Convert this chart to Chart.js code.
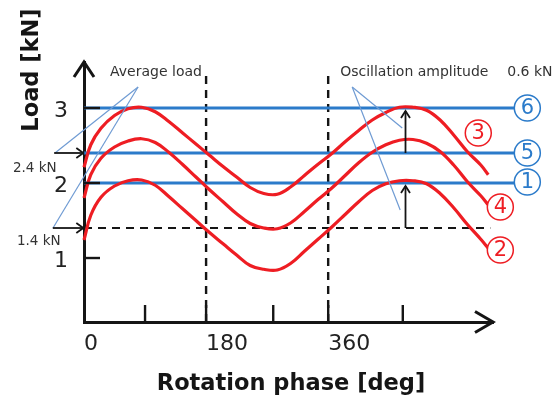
<!DOCTYPE html>
<html>
<head>
<meta charset="utf-8">
<script src="https://cdn.jsdelivr.net/npm/chart.js@4.4.0/dist/chart.umd.min.js"></script>
<style>
html,body{margin:0;padding:0;background:#fff;}
</style>
</head>
<body>
<canvas id="chart" width="559" height="397"></canvas>
<script>
// rotation phase [deg] shared by the three load curves
const phase = [0, 10, 25, 45, 65, 85, 105, 125, 145, 165, 185, 205, 225, 245, 265, 285, 305, 325, 345, 365, 385, 405, 425, 445, 465, 485, 505, 525, 545, 565, 585, 596];
// curve (3): average 2.4 kN
const load3 = [2.21, 2.51, 2.73, 2.90, 2.99, 3.01, 2.95, 2.82, 2.67, 2.52, 2.37, 2.22, 2.08, 1.94, 1.86, 1.85, 1.95, 2.10, 2.25, 2.39, 2.55, 2.70, 2.84, 2.94, 3.01, 3.01, 2.97, 2.84, 2.64, 2.42, 2.24, 2.11];
// curve (4): average 2.0 kN
const load4 = [1.80, 2.11, 2.33, 2.48, 2.56, 2.59, 2.54, 2.41, 2.25, 2.08, 1.91, 1.75, 1.59, 1.46, 1.40, 1.39, 1.47, 1.62, 1.78, 1.93, 2.10, 2.27, 2.41, 2.51, 2.57, 2.58, 2.53, 2.42, 2.24, 2.02, 1.83, 1.71];
// curve (2): average 1.4 kN
const load2 = [1.24, 1.57, 1.81, 1.96, 2.03, 2.04, 1.97, 1.82, 1.66, 1.50, 1.34, 1.19, 1.04, 0.90, 0.85, 0.84, 0.93, 1.09, 1.25, 1.41, 1.58, 1.75, 1.90, 1.99, 2.03, 2.03, 1.99, 1.86, 1.67, 1.45, 1.25, 1.13];

// constant loads (6), (5), (1)
const levelLoads = [3.0, 2.4, 2.0];
const levelIds = ["6", "5", "1"];
const levelEnd = 634;

const baseLoad = 1.4;        // dashed line
const baseEnd = 599;
const phaseMarks = [180, 360];
const markTop = 3.48;

const xTickLabels = [0, 180, 360];
const xTickMarks = [90, 180, 279, 360, 470];
const yTickLabels = [1, 2, 3];

const RED = "#ee1d23";
const BLUE = "#2b7bca";
const CALLOUT = "#6f9bd3";
const INK = "#151515";
const TXT = "#333333";

const pts = (xs, ys) => xs.map((x, i) => ({x: x, y: ys[i]}));

const datasets = [];
[load3, load4, load2].forEach(ys => {
  datasets.push({data: pts(phase, ys), borderColor: RED, borderWidth: 3.2,
    pointRadius: 0, tension: 0.4, clip: false});
});
levelLoads.forEach(v => {
  datasets.push({data: [{x: 0, y: v}, {x: levelEnd, y: v}], borderColor: BLUE,
    borderWidth: 2.8, pointRadius: 0, clip: false});
});
datasets.push({data: [{x: 0, y: baseLoad}, {x: baseEnd, y: baseLoad}], borderColor: INK,
  borderWidth: 2.2, borderDash: [8, 6], pointRadius: 0, clip: false});
phaseMarks.forEach(p => {
  datasets.push({data: [{x: p, y: 0.147}, {x: p, y: markTop}], borderColor: INK,
    borderWidth: 2.4, borderDash: [8, 6], pointRadius: 0, clip: false});
});

// circled ids: [text, phase, load, colour]
const circleLabels = [
  [levelIds[0], 653.6, levelLoads[0], BLUE], [levelIds[1], 653.6, levelLoads[1], BLUE], [levelIds[2], 653.6, 2.013, BLUE],
  ["3", 581.3, 2.667, RED], ["4", 613.8, 1.68, RED], ["2", 613.8, 1.107, RED]
];

function chevron(ctx, x, y, ang, len, half){
  const c = Math.cos(ang), s = Math.sin(ang);
  ctx.beginPath();
  ctx.moveTo(x - len*c + half*s, y - len*s - half*c);
  ctx.lineTo(x, y);
  ctx.lineTo(x - len*c - half*s, y - len*s + half*c);
  ctx.stroke();
}
function arrow(ctx, x1, y1, x2, y2, len, half){
  ctx.beginPath(); ctx.moveTo(x1, y1); ctx.lineTo(x2, y2); ctx.stroke();
  chevron(ctx, x2, y2, Math.atan2(y2 - y1, x2 - x1), len, half);
}

const decor = {
  id: "decor",
  afterDatasetsDraw(chart){
    const ctx = chart.ctx, a = chart.chartArea;
    const X = v => chart.scales.x.getPixelForValue(v);
    const Y = v => chart.scales.y.getPixelForValue(v);
    ctx.save();
    ctx.lineCap = "butt";
    ctx.strokeStyle = INK;
    // tick marks, drawn inside
    ctx.lineWidth = 2.4;
    xTickMarks.forEach(v => { ctx.beginPath(); ctx.moveTo(X(v), a.bottom); ctx.lineTo(X(v), a.bottom - 17); ctx.stroke(); });
    yTickLabels.forEach(v => { ctx.beginPath(); ctx.moveTo(a.left, Y(v)); ctx.lineTo(a.left + 16, Y(v)); ctx.stroke(); });
    // axis arrow heads
    ctx.lineWidth = 3;
    ctx.lineJoin = "miter";
    chevron(ctx, a.right, a.bottom, 0, 18, 10.5);
    chevron(ctx, a.left, a.top, -Math.PI/2, 15, 10);

    // callout lines
    ctx.strokeStyle = CALLOUT; ctx.lineWidth = 1.2;
    [[-42.8, 2.4], [-45.7, 1.4]].forEach(([x, y]) => {
      ctx.beginPath(); ctx.moveTo(X(79.7), Y(3.28)); ctx.lineTo(X(x), Y(y)); ctx.stroke();
    });
    [[469.2, 2.733], [466.2, 1.64]].forEach(([x, y]) => {
      ctx.beginPath(); ctx.moveTo(X(395.4), Y(3.28)); ctx.lineTo(X(x), Y(y)); ctx.stroke();
    });

    // value arrows
    ctx.strokeStyle = INK; ctx.lineWidth = 1.8;
    arrow(ctx, X(-44), Y(2.4), X(-1), Y(2.4), 7, 5);
    arrow(ctx, X(-46), Y(1.4), X(-1), Y(1.4), 7, 5);
    arrow(ctx, X(474), Y(2.4), X(474), Y(2.96), 7, 4.5);
    arrow(ctx, X(474), Y(1.4), X(474), Y(1.96), 7, 4.5);

    // annotation text
    ctx.fillStyle = TXT;
    ctx.textBaseline = "alphabetic";
    ctx.textAlign = "left";
    ctx.font = "14px 'DejaVu Sans'";
    ctx.fillText("Average load", X(38.4), Y(3.427));
    ctx.fillText("Oscillation amplitude", X(377.7), Y(3.427));
    ctx.fillText("0.6 kN", X(624), Y(3.427));
    ctx.font = "13.5px 'DejaVu Sans'";
    ctx.fillText("2.4 kN", X(-104.8), Y(2.147));
    ctx.fillText("1.4 kN", X(-98.9), Y(1.173));

    // circled ids
    circleLabels.forEach(([t, x, y, col]) => {
      const cx = X(x), cy = Y(y);
      ctx.strokeStyle = col; ctx.lineWidth = 1.5;
      ctx.fillStyle = "#fff";
      ctx.beginPath(); ctx.arc(cx, cy, 13, 0, Math.PI*2); ctx.fill(); ctx.stroke();
      ctx.fillStyle = col;
      ctx.font = "21px 'DejaVu Sans'";
      ctx.textAlign = "center"; ctx.textBaseline = "middle";
      ctx.fillText(t, cx, cy + 1);
    });

    // axis titles
    ctx.fillStyle = INK;
    ctx.font = "bold 22.5px 'DejaVu Sans'";
    ctx.textAlign = "center"; ctx.textBaseline = "alphabetic";
    ctx.fillText("Rotation phase [deg]", 291, 390);
    ctx.translate(38, 70);
    ctx.rotate(-Math.PI/2);
    ctx.fillText("Load [kN]", 0, 0);
    ctx.restore();
  }
};

new Chart(document.getElementById("chart"), {
  type: "line",
  data: {datasets: datasets},
  options: {
    responsive: false,
    animation: false,
    layout: {padding: {top: 62, right: 66, left: 0, bottom: 0}},
    plugins: {legend: {display: false}, tooltip: {enabled: false}},
    scales: {
      x: {
        type: "linear", min: 0, max: 603,
        afterFit: s => { s.height = 75; },
        afterBuildTicks: s => { s.ticks = xTickLabels.map(v => ({value: v})); },
        grid: {display: false, drawTicks: false},
        border: {display: true, color: INK, width: 3},
        ticks: {align: "start", padding: 9, color: "#222", font: {family: "DejaVu Sans", size: 22},
          callback: v => String(v)}
      },
      y: {
        type: "linear", min: 0.147, max: 3.613,
        afterFit: s => { s.width = 84; },
        afterBuildTicks: s => { s.ticks = yTickLabels.map(v => ({value: v})); },
        grid: {display: false, drawTicks: false},
        border: {display: true, color: INK, width: 3},
        ticks: {padding: 16, labelOffset: 3, color: "#222", font: {family: "DejaVu Sans", size: 22},
          callback: v => String(v)}
      }
    }
  },
  plugins: [decor]
});
</script>
</body>
</html>
